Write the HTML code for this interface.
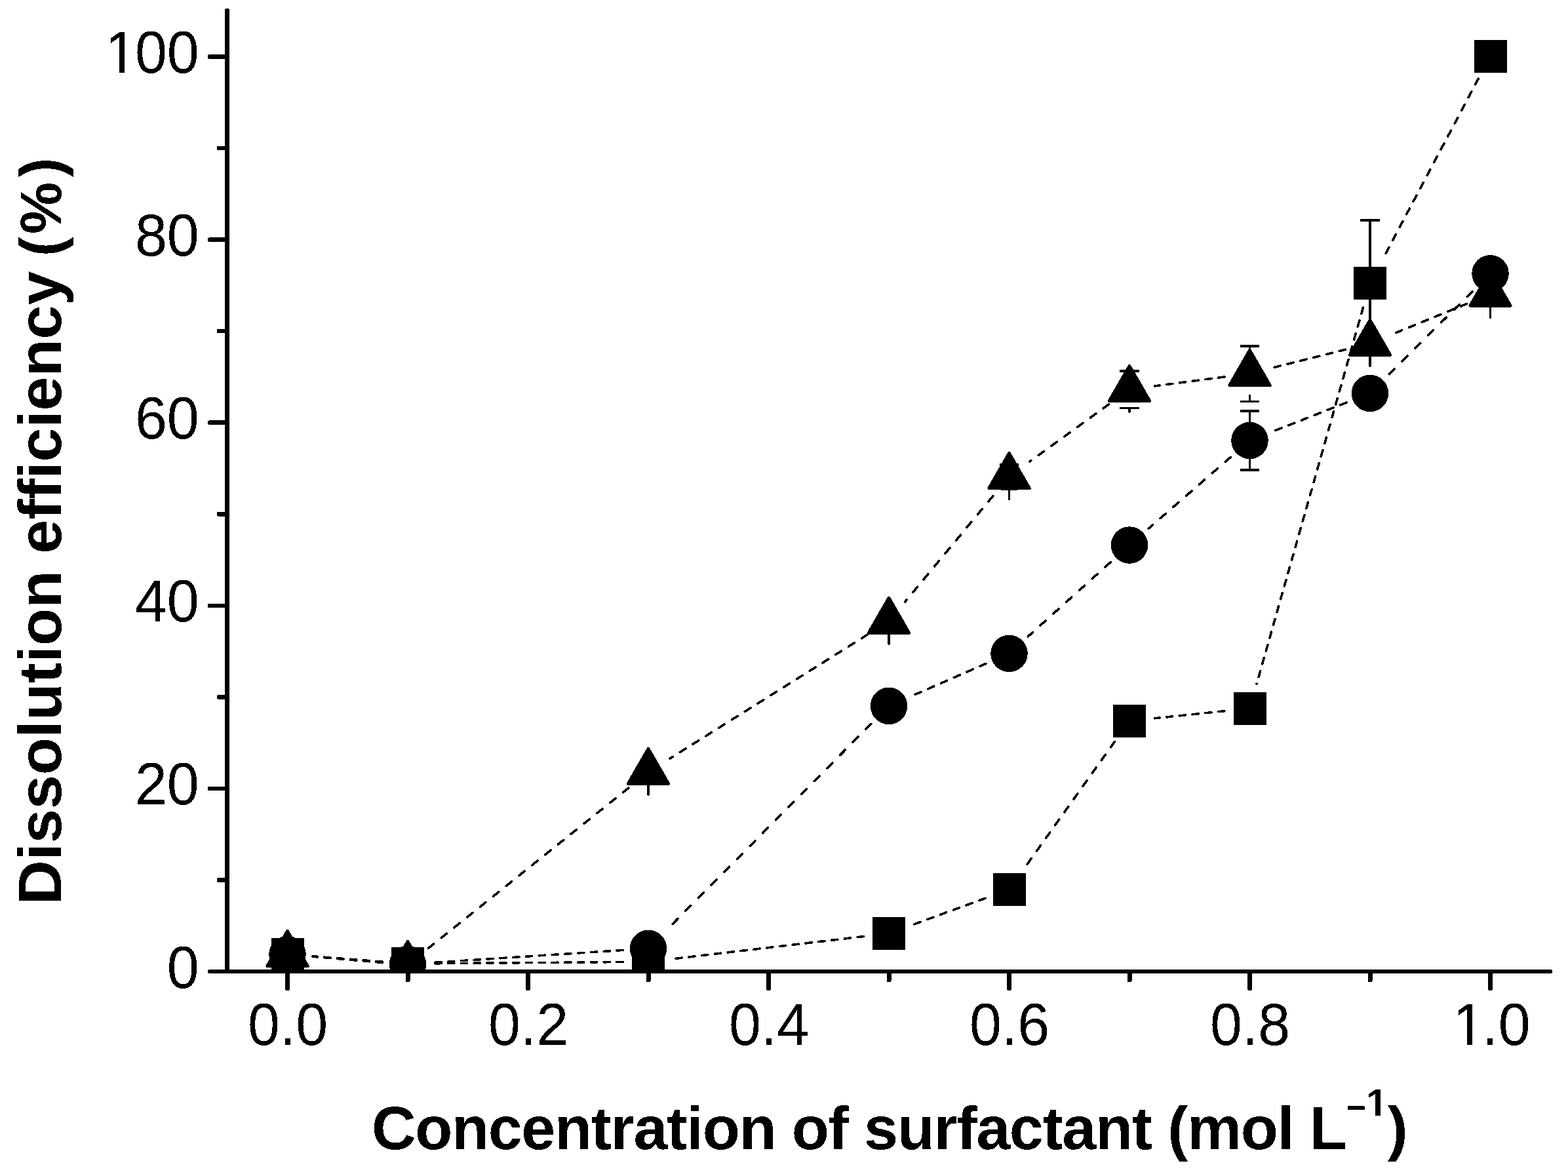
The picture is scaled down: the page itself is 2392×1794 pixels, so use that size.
<!DOCTYPE html>
<html lang="en"><head><meta charset="utf-8">
<title>Dissolution efficiency vs. concentration of surfactant</title>
<style>
html,body{margin:0;padding:0;background:#fff;}
body{width:2392px;height:1794px;overflow:hidden;}
svg{display:block;}
text{font-family:"Liberation Sans",sans-serif;fill:#000;}
.tick{font-size:88px;}
.title{font-size:93.5px;font-weight:bold;font-variant-ligatures:none;}
.xt{letter-spacing:-1.35px;}
.sup1{font-size:58px;letter-spacing:0;}
.supm{font-size:51px;letter-spacing:0;}
.rp{letter-spacing:0;}
.pc{font-size:89px;}
</style></head><body>
<svg width="2392" height="1794" viewBox="0 0 2392 1794" role="img" aria-label="Dissolution efficiency (%) versus concentration of surfactant (mol L-1)">
<rect x="0" y="0" width="2392" height="1794" fill="#fff"/>
<defs>
<clipPath id="plot"><rect x="346.50" y="0" width="2045.50" height="1482.00"/></clipPath>
<filter id="bw" filterUnits="userSpaceOnUse" x="0" y="0" width="2392" height="1794" color-interpolation-filters="sRGB"><feComponentTransfer><feFuncA type="discrete" tableValues="0 1"/></feComponentTransfer></filter>
</defs>
<g clip-path="url(#plot)" fill="#000" stroke="#000" shape-rendering="crispEdges">
<line x1="583.32" y1="1467.09" x2="477.18" y2="1458.81" stroke-width="3.60" stroke-linecap="round" stroke-dasharray="9.32 10.54" fill="none"/>
<line x1="950.20" y1="1467.51" x2="660.80" y2="1469.79" stroke-width="3.60" stroke-linecap="round" stroke-dasharray="9.30 10.50" fill="none"/>
<line x1="1317.47" y1="1428.54" x2="1027.53" y2="1462.66" stroke-width="3.60" stroke-linecap="round" stroke-dasharray="9.34 10.60" fill="none"/>
<line x1="1503.05" y1="1370.31" x2="1392.45" y2="1410.69" stroke-width="3.60" stroke-linecap="round" stroke-dasharray="9.66 11.42" fill="none"/>
<line x1="1700.47" y1="1131.39" x2="1562.03" y2="1325.41" stroke-width="3.60" stroke-linecap="round" stroke-dasharray="10.44 13.88" fill="none"/>
<line x1="1867.91" y1="1084.72" x2="1761.59" y2="1095.78" stroke-width="3.60" stroke-linecap="round" stroke-dasharray="9.33 10.58" fill="none"/>
<line x1="2079.44" y1="469.24" x2="1917.06" y2="1043.36" stroke-width="3.60" stroke-linecap="round" stroke-dasharray="9.52 11.05" fill="none"/>
<line x1="2255.33" y1="119.98" x2="2111.31" y2="391.70" stroke-width="3.60" stroke-linecap="round" stroke-dasharray="10.00 12.41" fill="none"/>
<line x1="583.33" y1="1467.84" x2="477.17" y2="1459.16" stroke-width="3.60" stroke-linecap="round" stroke-dasharray="9.32 10.55" fill="none"/>
<line x1="950.28" y1="1449.44" x2="660.72" y2="1468.46" stroke-width="3.60" stroke-linecap="round" stroke-dasharray="9.31 10.53" fill="none"/>
<line x1="1328.68" y1="1104.45" x2="1016.32" y2="1419.35" stroke-width="3.60" stroke-linecap="round" stroke-dasharray="11.09 16.80" fill="none"/>
<line x1="1503.93" y1="1012.41" x2="1391.57" y2="1061.39" stroke-width="3.60" stroke-linecap="round" stroke-dasharray="9.80 11.80" fill="none"/>
<line x1="1694.17" y1="857.57" x2="1568.33" y2="970.93" stroke-width="3.60" stroke-linecap="round" stroke-dasharray="10.89 15.76" fill="none"/>
<line x1="1877.22" y1="697.46" x2="1752.28" y2="806.14" stroke-width="3.60" stroke-linecap="round" stroke-dasharray="10.82 15.42" fill="none"/>
<line x1="2053.88" y1="614.17" x2="1942.62" y2="657.83" stroke-width="3.60" stroke-linecap="round" stroke-dasharray="9.71 11.56" fill="none"/>
<line x1="2246.00" y1="444.68" x2="2117.50" y2="572.62" stroke-width="3.60" stroke-linecap="round" stroke-dasharray="11.09 16.85" fill="none"/>
<line x1="583.34" y1="1468.45" x2="477.16" y2="1459.25" stroke-width="3.60" stroke-linecap="round" stroke-dasharray="9.32 10.55" fill="none"/>
<line x1="958.72" y1="1202.06" x2="652.28" y2="1447.54" stroke-width="3.60" stroke-linecap="round" stroke-dasharray="10.65 14.72" fill="none"/>
<line x1="1323.13" y1="968.31" x2="1021.87" y2="1157.19" stroke-width="3.60" stroke-linecap="round" stroke-dasharray="10.23 13.14" fill="none"/>
<line x1="1514.70" y1="756.74" x2="1380.80" y2="917.86" stroke-width="3.60" stroke-linecap="round" stroke-dasharray="10.73 15.02" fill="none"/>
<line x1="1691.58" y1="616.67" x2="1570.92" y2="704.13" stroke-width="3.60" stroke-linecap="round" stroke-dasharray="10.47 13.98" fill="none"/>
<line x1="1868.03" y1="574.93" x2="1761.47" y2="588.87" stroke-width="3.60" stroke-linecap="round" stroke-dasharray="9.35 10.62" fill="none"/>
<line x1="2052.37" y1="533.25" x2="1944.13" y2="560.45" stroke-width="3.60" stroke-linecap="round" stroke-dasharray="9.48 10.94" fill="none"/>
<line x1="2237.59" y1="463.40" x2="2125.91" y2="509.10" stroke-width="3.60" stroke-linecap="round" stroke-dasharray="9.74 11.65" fill="none"/>
<line x1="989.00" y1="1196.70" x2="989.00" y2="1212.30" stroke-width="3.40" stroke-linecap="round"/>
<line x1="1356.00" y1="966.70" x2="1356.00" y2="982.10" stroke-width="3.40" stroke-linecap="round"/>
<line x1="1539.50" y1="746.70" x2="1539.50" y2="761.20" stroke-width="3.40" stroke-linecap="round"/>
<line x1="1723.00" y1="624.20" x2="1723.00" y2="628.40" stroke-width="3.40" stroke-linecap="round"/>
<line x1="1906.50" y1="529.70" x2="1906.50" y2="533.30" stroke-width="3.40" stroke-linecap="round"/>
<line x1="1906.50" y1="603.50" x2="1906.50" y2="611.30" stroke-width="3.40" stroke-linecap="round"/>
<line x1="2090.00" y1="542.70" x2="2090.00" y2="558.30" stroke-width="3.40" stroke-linecap="round"/>
<line x1="2273.50" y1="467.70" x2="2273.50" y2="484.30" stroke-width="3.40" stroke-linecap="round"/>
<line x1="1906.50" y1="628.70" x2="1906.50" y2="715.30" stroke-width="3.40" stroke-linecap="round"/>
<line x1="2090.00" y1="337.70" x2="2090.00" y2="488.30" stroke-width="3.40" stroke-linecap="round"/>
<line x1="1527.00" y1="709.00" x2="1552.00" y2="709.00" stroke-width="4.20" stroke-linecap="round"/>
<line x1="1528.20" y1="746.00" x2="1550.80" y2="746.00" stroke-width="4.20" stroke-linecap="round"/>
<line x1="1710.10" y1="566.00" x2="1735.90" y2="566.00" stroke-width="4.30" stroke-linecap="round"/>
<line x1="1709.60" y1="622.50" x2="1736.40" y2="622.50" stroke-width="3.30" stroke-linecap="round"/>
<line x1="1894.00" y1="528.00" x2="1919.00" y2="528.00" stroke-width="4.20" stroke-linecap="round"/>
<line x1="1891.90" y1="612.50" x2="1921.10" y2="612.50" stroke-width="3.10" stroke-linecap="butt"/>
<line x1="1894.00" y1="627.00" x2="1919.00" y2="627.00" stroke-width="4.20" stroke-linecap="round"/>
<line x1="1894.00" y1="717.00" x2="1919.00" y2="717.00" stroke-width="4.20" stroke-linecap="round"/>
<line x1="2077.00" y1="336.00" x2="2103.00" y2="336.00" stroke-width="4.20" stroke-linecap="round"/>
<rect x="413.50" y="1430.80" width="50.00" height="50.00" stroke="none"/>
<circle cx="438.50" cy="1456.00" r="28.25" stroke="none"/>
<polygon points="438.50,1420.40 469.24,1473.65 407.76,1473.65" stroke-width="4.80" stroke-linejoin="round"/>
<rect x="597.00" y="1445.10" width="50.00" height="50.00" stroke="none"/>
<circle cx="622.00" cy="1471.00" r="28.25" stroke="none"/>
<polygon points="622.00,1436.30 652.74,1489.55 591.26,1489.55" stroke-width="4.80" stroke-linejoin="round"/>
<rect x="964.00" y="1442.20" width="50.00" height="50.00" stroke="none"/>
<circle cx="989.00" cy="1446.90" r="28.25" stroke="none"/>
<polygon points="989.00,1142.30 1019.74,1195.55 958.26,1195.55" stroke-width="4.80" stroke-linejoin="round"/>
<rect x="1331.00" y="1399.00" width="50.00" height="50.00" stroke="none"/>
<circle cx="1356.00" cy="1076.90" r="28.25" stroke="none"/>
<polygon points="1356.00,912.20 1386.74,965.45 1325.26,965.45" stroke-width="4.80" stroke-linejoin="round"/>
<rect x="1514.50" y="1332.00" width="50.00" height="50.00" stroke="none"/>
<circle cx="1539.50" cy="996.90" r="28.25" stroke="none"/>
<polygon points="1539.50,691.40 1570.24,744.65 1508.76,744.65" stroke-width="4.80" stroke-linejoin="round"/>
<rect x="1698.00" y="1074.80" width="50.00" height="50.00" stroke="none"/>
<circle cx="1723.00" cy="831.60" r="28.25" stroke="none"/>
<polygon points="1723.00,558.40 1753.74,611.65 1692.26,611.65" stroke-width="4.80" stroke-linejoin="round"/>
<rect x="1881.50" y="1055.70" width="50.00" height="50.00" stroke="none"/>
<circle cx="1906.50" cy="672.00" r="28.25" stroke="none"/>
<polygon points="1906.50,534.40 1937.24,587.65 1875.76,587.65" stroke-width="4.80" stroke-linejoin="round"/>
<rect x="2065.00" y="406.90" width="50.00" height="50.00" stroke="none"/>
<circle cx="2090.00" cy="600.00" r="28.25" stroke="none"/>
<polygon points="2090.00,488.30 2120.74,541.55 2059.26,541.55" stroke-width="4.80" stroke-linejoin="round"/>
<rect x="2248.50" y="60.70" width="50.00" height="50.00" stroke="none"/>
<circle cx="2273.50" cy="417.30" r="28.25" stroke="none"/>
<polygon points="2273.50,413.20 2304.24,466.45 2242.76,466.45" stroke-width="4.80" stroke-linejoin="round"/>
</g>
<g fill="#000" stroke="none" shape-rendering="crispEdges">
<rect x="343.00" y="13.00" width="7.00" height="1472.00" rx="2.40" ry="2.40"/>
<rect x="316.80" y="1479.00" width="2051.30" height="6.00" rx="2.40" ry="2.40"/>
<rect x="330.80" y="1339.15" width="15.70" height="6.60" rx="2.40" ry="2.40"/>
<rect x="316.80" y="1199.60" width="29.70" height="6.60" rx="2.40" ry="2.40"/>
<rect x="330.80" y="1060.05" width="15.70" height="6.60" rx="2.40" ry="2.40"/>
<rect x="316.80" y="920.50" width="29.70" height="6.60" rx="2.40" ry="2.40"/>
<rect x="330.80" y="780.95" width="15.70" height="6.60" rx="2.40" ry="2.40"/>
<rect x="316.80" y="641.40" width="29.70" height="6.60" rx="2.40" ry="2.40"/>
<rect x="330.80" y="501.85" width="15.70" height="6.60" rx="2.40" ry="2.40"/>
<rect x="316.80" y="362.30" width="29.70" height="6.60" rx="2.40" ry="2.40"/>
<rect x="330.80" y="222.75" width="15.70" height="6.60" rx="2.40" ry="2.40"/>
<rect x="316.80" y="83.20" width="29.70" height="6.60" rx="2.40" ry="2.40"/>
<rect x="435.00" y="1482.00" width="7.00" height="29.00" rx="2.40" ry="2.40"/>
<rect x="618.50" y="1482.00" width="7.00" height="16.00" rx="2.40" ry="2.40"/>
<rect x="802.00" y="1482.00" width="7.00" height="29.00" rx="2.40" ry="2.40"/>
<rect x="985.50" y="1482.00" width="7.00" height="16.00" rx="2.40" ry="2.40"/>
<rect x="1169.00" y="1482.00" width="7.00" height="29.00" rx="2.40" ry="2.40"/>
<rect x="1352.50" y="1482.00" width="7.00" height="16.00" rx="2.40" ry="2.40"/>
<rect x="1536.00" y="1482.00" width="7.00" height="29.00" rx="2.40" ry="2.40"/>
<rect x="1719.50" y="1482.00" width="7.00" height="16.00" rx="2.40" ry="2.40"/>
<rect x="1903.00" y="1482.00" width="7.00" height="29.00" rx="2.40" ry="2.40"/>
<rect x="2086.50" y="1482.00" width="7.00" height="16.00" rx="2.40" ry="2.40"/>
<rect x="2270.00" y="1482.00" width="7.00" height="29.00" rx="2.40" ry="2.40"/>
</g>
<g filter="url(#bw)">
<g class="tick">
<text transform="translate(303.8 1506.60) scale(1 1.0300)" text-anchor="end">0</text>
<text transform="translate(303.8 1227.50) scale(1 1.0300)" text-anchor="end">20</text>
<text transform="translate(303.8 948.40) scale(1 1.0300)" text-anchor="end">40</text>
<text transform="translate(303.8 669.30) scale(1 1.0300)" text-anchor="end">60</text>
<text transform="translate(303.8 390.20) scale(1 1.0300)" text-anchor="end">80</text>
<text transform="translate(0 111.10) scale(1 1.0300)" x="160.20 205.92 254.86" y="0">100</text>
<text transform="translate(439.10 1593.8) scale(1 1.0300)" text-anchor="middle">0.0</text>
<text transform="translate(806.10 1593.8) scale(1 1.0300)" text-anchor="middle">0.2</text>
<text transform="translate(1173.10 1593.8) scale(1 1.0300)" text-anchor="middle">0.4</text>
<text transform="translate(1540.10 1593.8) scale(1 1.0300)" text-anchor="middle">0.6</text>
<text transform="translate(1907.10 1593.8) scale(1 1.0300)" text-anchor="middle">0.8</text>
<text transform="translate(0 1593.8) scale(1 1.0300)" x="2216.15 2260.79 2285.74" y="0">1.0</text>
</g>
<text class="title" transform="translate(93 1379.7) rotate(-90)">Dissolution efficiency <tspan class="pc" x="988.8 1022.7 1109.4">(%)</tspan></text>
<text class="title xt" x="567" y="1752.6">Concentration of surfactant (mol L<tspan class="supm" x="2053.9" y="1707.4">−</tspan><tspan class="sup1" x="2084.4" y="1701.9">1</tspan><tspan class="rp" x="2116.5" y="1752.6">)</tspan></text>
</g>
<g fill="#fff" stroke="none" shape-rendering="crispEdges">
<rect x="165.40" y="103.83" width="16.93" height="8.77"/>
<rect x="190.11" y="103.83" width="15.74" height="8.77"/>
<rect x="2221.35" y="1586.53" width="16.93" height="8.77"/>
<rect x="2246.06" y="1586.53" width="15.74" height="8.77"/>
<rect x="2086.55" y="1695.48" width="11.38" height="7.92"/>
<rect x="2105.90" y="1695.48" width="10.15" height="7.92"/>
</g>
</svg>
</body></html>
